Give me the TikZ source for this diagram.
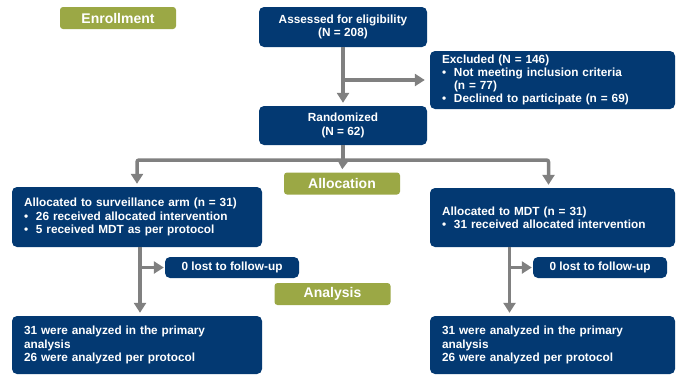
\documentclass[tikz,border=0pt]{standalone}
\usepackage{fontspec}
\setmainfont{Liberation Sans}
\usepackage{tikz}
\usetikzlibrary{%
	calc,%
	arrows.meta
}
\definecolor{boxblue}{RGB}{3,57,114}
\definecolor{stagegreen}{RGB}{155,168,69}
\definecolor{linegray}{RGB}{128,128,128}
\newcommand{\bul}{\makebox[12pt][l]{\textbullet}}

\begin{document}
\begin{tikzpicture}[x=1pt,y=-1pt,
	box/.style={fill=boxblue, rounded corners=5pt, text=white, font=\fontsize{11.8}{13.2}\selectfont\bfseries, inner xsep=12pt, inner ysep=0pt},
	stage/.style={fill=stagegreen, rounded corners=3pt, text=white, font=\fontsize{14}{15}\selectfont\bfseries, minimum width=116pt, minimum height=22pt, inner sep=0pt},
	arr/.style={draw=linegray, line width=3.5pt, -{Triangle[width=12pt,length=10pt]}},
	seg/.style={draw=linegray, line width=3.5pt}]
				\useasboundingbox (0,0) rectangle (676,375);
				
				% Stages
				\node[stage] (enroll) at (118,18) {Enrollment};
				\node[stage] (alloc) at (342,183.5) {Allocation};
				\node[stage] (anal) at (332.5,294) {Analysis};
				
				% Boxes
				\node[box, minimum width=168pt, minimum height=40pt, align=center] (assess) at (343,27) {Assessed for eligibility\\(N = 208)};
				\node[box, minimum width=245pt, minimum height=58pt, text width=221pt, align=left] (excl) at (552.5,80) {Excluded (N = 146)\\\bul Not meeting inclusion criteria\\\hspace*{12pt}(n = 77)\\\bul Declined to participate (n = 69)};
				\node[box, minimum width=168pt, minimum height=39pt, align=center] (random) at (343,125.5) {Randomized\\(N = 62)};
				\node[box, minimum width=250pt, minimum height=60pt, text width=226pt, align=left] (surv) at (137,217) {Allocated to surveillance arm (n = 31)\\\bul 26 received allocated intervention\\\bul 5 received MDT as per protocol};
				\node[box, minimum width=245pt, minimum height=59pt, text width=221pt, align=left] (mdt) at (552.5,217.5) {Allocated to MDT (n = 31)\\\bul 31 received allocated intervention};
				\node[box, minimum width=134pt, minimum height=21pt, align=center] (lostl) at (232,267.5) {0 lost to follow-up};
				\node[box, minimum width=134pt, minimum height=21pt, align=center] (lostr) at (600,267.5) {0 lost to follow-up};
				\node[box, minimum width=250pt, minimum height=58pt, text width=226pt, align=left] (resl) at (137,345) {31 were analyzed in the primary\\analysis\\26 were analyzed per protocol};
				\node[box, minimum width=245pt, minimum height=58pt, text width=221pt, align=left] (resr) at (552.5,345) {31 were analyzed in the primary\\analysis\\26 were analyzed per protocol};
				
				% Split points
				\coordinate (split) at (343,160);
				\coordinate (rtop) at ($(mdt.south)+(-43,0)$);
				\coordinate (rbot) at ($(resr.north)+(-43,0)$);
				\coordinate (ltop) at ($(surv.south)+(3,0)$);
				\coordinate (lbot) at ($(resl.north)+(3,0)$);
				
				% Arrows
				\draw[arr, shorten >=3pt] (assess.south) -- (random.north);
				\draw[arr, shorten >=5pt] (assess.south |- excl.west) -- (excl.west);
				\draw[seg] (random.south) -- (split);
				\draw[arr, shorten >=3pt] (split) -- (alloc.north);
				\draw[arr, rounded corners=2pt, shorten >=3pt] (split) -| (surv.north);
				\draw[arr, rounded corners=2pt, shorten >=3pt] (split) -| ($(mdt.north)+(-4,0)$);
				\foreach \from/\to/\lost in {ltop/lbot/lostl,rtop/rbot/lostr}
				{
					\draw[arr, shorten >=3pt] (\from) -- (\to);
					\draw[arr, shorten >=1pt] (\from |- \lost.west) -- (\lost.west);
				}
			\end{tikzpicture}
\end{document}
